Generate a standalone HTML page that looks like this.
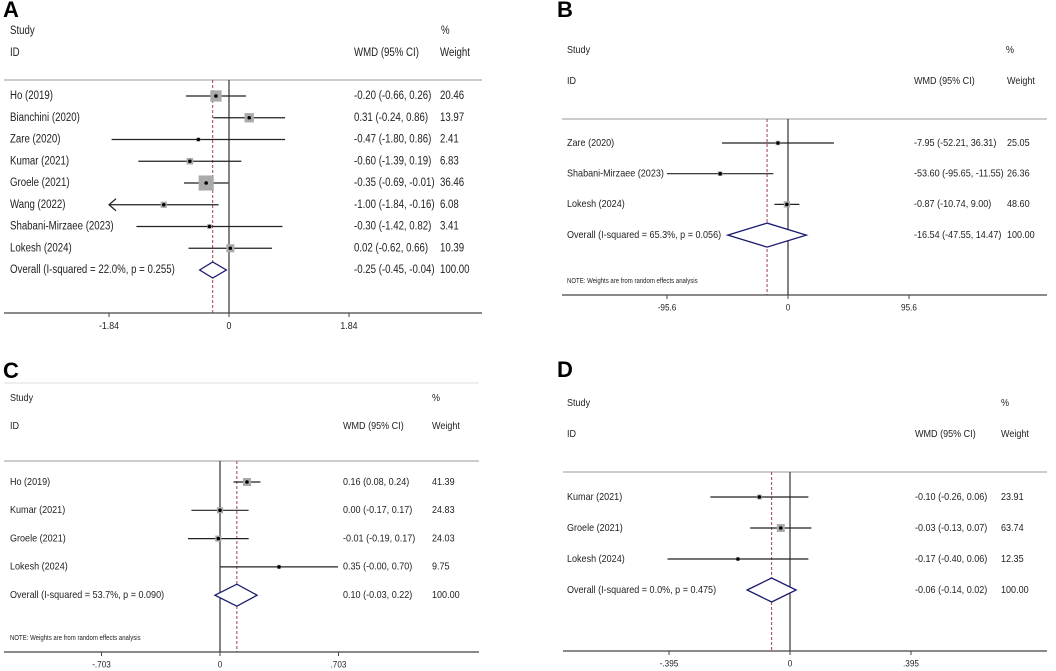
<!DOCTYPE html>
<html><head><meta charset="utf-8">
<style>
html,body{margin:0;padding:0;background:#fff;}
svg{display:block;font-family:"Liberation Sans",Arial,sans-serif;}
</style></head>
<body>
<svg id="fig" width="1056" height="671" viewBox="0 0 1056 671" xmlns="http://www.w3.org/2000/svg"></svg>
<script>
// Panel A data
const studiesA = ["Ho (2019)","Bianchini (2020)","Zare (2020)","Kumar (2021)","Groele (2021)","Wang (2022)","Shabani-Mirzaee (2023)","Lokesh (2024)"];
const estA = [-0.20,0.31,-0.47,-0.60,-0.35,-1.00,-0.30,0.02];
const lowA = [-0.66,-0.24,-1.80,-1.39,-0.69,-1.84,-1.42,-0.62];
const highA = [0.26,0.86,0.86,0.19,-0.01,-0.16,0.82,0.66];
const weightA = [20.46,13.97,2.41,6.83,36.46,6.08,3.41,10.39];
const ciTextA = ["-0.20 (-0.66, 0.26)","0.31 (-0.24, 0.86)","-0.47 (-1.80, 0.86)","-0.60 (-1.39, 0.19)","-0.35 (-0.69, -0.01)","-1.00 (-1.84, -0.16)","-0.30 (-1.42, 0.82)","0.02 (-0.62, 0.66)"];
const overallA = [-0.25,-0.45,-0.04];
const overallLabelA = "Overall  (I-squared = 22.0%, p = 0.255)";
const overallTextA = "-0.25 (-0.45, -0.04)";
const ticksA = [-1.84,0,1.84];
const tickLabelsA = ["-1.84","0","1.84"];
// Panel B data
const studiesB = ["Zare (2020)","Shabani-Mirzaee (2023)","Lokesh (2024)"];
const estB = [-7.95,-53.60,-0.87];
const lowB = [-52.21,-95.65,-10.74];
const highB = [36.31,-11.55,9.00];
const weightB = [25.05,26.36,48.60];
const ciTextB = ["-7.95 (-52.21, 36.31)","-53.60 (-95.65, -11.55)","-0.87 (-10.74, 9.00)"];
const overallB = [-16.54,-47.55,14.47];
const overallLabelB = "Overall  (I-squared = 65.3%, p = 0.056)";
const overallTextB = "-16.54 (-47.55, 14.47)";
const ticksB = [-95.6,0,95.6];
const tickLabelsB = ["-95.6","0","95.6"];
// Panel C data
const studiesC = ["Ho (2019)","Kumar (2021)","Groele (2021)","Lokesh (2024)"];
const estC = [0.16,0.00,-0.01,0.35];
const lowC = [0.08,-0.17,-0.19,0.00];
const highC = [0.24,0.17,0.17,0.70];
const weightC = [41.39,24.83,24.03,9.75];
const ciTextC = ["0.16 (0.08, 0.24)","0.00 (-0.17, 0.17)","-0.01 (-0.19, 0.17)","0.35 (-0.00, 0.70)"];
const overallC = [0.10,-0.03,0.22];
const overallLabelC = "Overall  (I-squared = 53.7%, p = 0.090)";
const overallTextC = "0.10 (-0.03, 0.22)";
const ticksC = [-0.703,0,0.703];
const tickLabelsC = ["-.703","0",".703"];
// Panel D data
const studiesD = ["Kumar (2021)","Groele (2021)","Lokesh (2024)"];
const estD = [-0.10,-0.03,-0.17];
const lowD = [-0.26,-0.13,-0.40];
const highD = [0.06,0.07,0.06];
const weightD = [23.91,63.74,12.35];
const ciTextD = ["-0.10 (-0.26, 0.06)","-0.03 (-0.13, 0.07)","-0.17 (-0.40, 0.06)"];
const overallD = [-0.06,-0.14,0.02];
const overallLabelD = "Overall  (I-squared = 0.0%, p = 0.475)";
const overallTextD = "-0.06 (-0.14, 0.02)";
const ticksD = [-0.395,0,0.395];
const tickLabelsD = ["-.395","0",".395"];

const svg = document.getElementById('fig');
const NS = "http://www.w3.org/2000/svg";
function mk(tag, attrs, parent){
  const e = document.createElementNS(NS, tag);
  for (const k in attrs) e.setAttribute(k, attrs[k]);
  (parent||svg).appendChild(e);
  return e;
}
let SQUEEZE = 0.85;
function txt(x,y,s,size,parent,anchor,weight,noSqueeze){
  const t = mk('text',{x:x,y:y,'font-size':size,fill:'#222','text-anchor':anchor||'start','dominant-baseline':'middle','font-weight':weight||'normal'},parent);
  t.textContent = s;
  if (!noSqueeze){
    const w = t.getComputedTextLength();
    if (w > 0){
      t.setAttribute('textLength', (w*SQUEEZE).toFixed(2));
      t.setAttribute('lengthAdjust','spacingAndGlyphs');
    }
  }
  return t;
}

function panel(cfg){
  SQUEEZE = cfg.squeeze;
  const g = mk('g',{});
  
  
  const sx = v => cfg.zeroX + v*cfg.scale;
  const L = txt(cfg.letterX, cfg.letterY, cfg.letter, 22, g, 'start', 'bold', true);
  L.setAttribute('fill','#000');
  
  
  const hdr = [[cfg.textX,cfg.studyY,"Study"],[cfg.pctX,cfg.studyY,"%"],[cfg.textX,cfg.idY,"ID"],[cfg.wmdX,cfg.idY,"WMD (95% CI)"],[cfg.wtX,cfg.idY,"Weight"]];
  hdr.forEach(h=>{
    const t = txt(h[0],h[1],h[2],cfg.fs,g);
    
    
  });
  if (cfg.topFaint){
    const fl = mk('line',{x1:cfg.x0,x2:cfg.x1,y1:cfg.topFaint,y2:cfg.topFaint,stroke:'#ddd','stroke-width':1},g);
    
    
  }
  const tl = mk('line',{x1:cfg.x0,x2:cfg.x1,y1:cfg.topY,y2:cfg.topY,stroke:'#bbb','stroke-width':1.5},g);
  
  
  const zl = mk('line',{x1:sx(0),x2:sx(0),y1:cfg.topY,y2:cfg.axisY,stroke:'#333','stroke-width':1.2},g);
  
  
  const ol = mk('line',{x1:sx(cfg.overall[0]),x2:sx(cfg.overall[0]),y1:cfg.topY,y2:cfg.axisY,stroke:'#a04050','stroke-width':1,'stroke-dasharray':'3,2'},g);
  
  
  const minV = cfg.ticks[0];
  cfg.studies.forEach((s,i)=>{
    const y = cfg.rowY0 + i*cfg.rowH;
    const lab = txt(cfg.textX,y,s,cfg.fs,g);
    
    
    let lo = cfg.low[i], clipped = false;
    if (cfg.arrow && lo <= minV){ lo = minV; clipped = true; }
    const ci = mk('line',{x1:sx(lo),x2:sx(cfg.high[i]),y1:y,y2:y,stroke:'#222','stroke-width':1.2},g);
    
    
    if (clipped){
      const a = mk('polyline',{points:`${sx(lo)+7},${y-6} ${sx(lo)},${y} ${sx(lo)+7},${y+6}`,fill:'none',stroke:'#222','stroke-width':1.2},g);
      
      
    }
    const side = cfg.boxK*Math.sqrt(cfg.weight[i]);
    const b = mk('rect',{x:sx(cfg.est[i])-side/2,y:y-side/2,width:side,height:side,fill:'#aaa'},g);
    
    
    const d = mk('circle',{cx:sx(cfg.est[i]),cy:y,r:1.8,fill:'#000'},g);
    
    
    const ct = txt(cfg.wmdX,y,cfg.ciText[i],cfg.fs,g);
    
    
    const wt = txt(cfg.wtX,y,cfg.weight[i].toFixed(2),cfg.fs,g);
    
    
  });
  const oy = cfg.rowY0 + cfg.studies.length*cfg.rowH;
  const olab = txt(cfg.textX,oy,cfg.overallLabel,cfg.fs,g);
  
  
  const o = cfg.overall, h = cfg.diaH;
  const dm = mk('polygon',{points:`${sx(o[1])},${oy} ${sx(o[0])},${oy-h} ${sx(o[2])},${oy} ${sx(o[0])},${oy+h}`,fill:'#fff',stroke:'#1a1a6e','stroke-width':1.3},g);
  
  
  const ot = txt(cfg.wmdX,oy,cfg.overallText,cfg.fs,g);
  
  
  const ow = txt(cfg.wtX,oy,"100.00",cfg.fs,g);
  
  
  if (cfg.noteY){
    const n = txt(cfg.textX,cfg.noteY,"NOTE: Weights are from random effects analysis",7,g);
    
    
  }
  const ax = mk('line',{x1:cfg.x0,x2:cfg.x1,y1:cfg.axisY,y2:cfg.axisY,stroke:'#444','stroke-width':1.3},g);
  
  
  cfg.ticks.forEach((v,i)=>{
    const tk = mk('line',{x1:sx(v),x2:sx(v),y1:cfg.axisY,y2:cfg.axisY+4,stroke:'#444','stroke-width':1},g);
    
    
    const tt = txt(sx(v),cfg.axisY+13,cfg.tickLabels[i],cfg.fs-1,g,'middle');
    
    
  });
}

panel({name:'panel-a',letter:'A',letterX:3,letterY:11,textX:10,pctX:441,wmdX:354,wtX:440,studyY:31,idY:53,squeeze:0.84,
  topY:80,x0:4,x1:482,axisY:313,zeroX:229,scale:120/1.84,rowY0:96,rowH:21.75,fs:11.5,boxK:2.5,diaH:8,arrow:true,
  studies:studiesA,est:estA,low:lowA,high:highA,weight:weightA,ciText:ciTextA,overall:overallA,
  overallLabel:overallLabelA,overallText:overallTextA,ticks:ticksA,tickLabels:tickLabelsA});
panel({name:'panel-b',letter:'B',letterX:557,letterY:11,textX:567,pctX:1006,wmdX:914,wtX:1007,studyY:50,idY:81,squeeze:0.86,
  topY:119,x0:562,x1:1047,axisY:295,zeroX:788,scale:121/95.6,rowY0:143,rowH:30.7,fs:10.5,boxK:0.9,diaH:12,noteY:281,
  studies:studiesB,est:estB,low:lowB,high:highB,weight:weightB,ciText:ciTextB,overall:overallB,
  overallLabel:overallLabelB,overallText:overallTextB,ticks:ticksB,tickLabels:tickLabelsB});
panel({name:'panel-c',letter:'C',letterX:3,letterY:372,textX:10,pctX:432,wmdX:343,wtX:432,studyY:398,idY:426,topFaint:383,squeeze:0.86,
  topY:461,x0:4,x1:479,axisY:652,zeroX:220,scale:118.5/0.703,rowY0:482,rowH:28.3,fs:10.5,boxK:1.25,diaH:11,noteY:638,
  studies:studiesC,est:estC,low:lowC,high:highC,weight:weightC,ciText:ciTextC,overall:overallC,
  overallLabel:overallLabelC,overallText:overallTextC,ticks:ticksC,tickLabels:tickLabelsC});
panel({name:'panel-d',letter:'D',letterX:557,letterY:371,textX:567,pctX:1001,wmdX:915,wtX:1001,studyY:403,idY:434,squeeze:0.86,
  topY:472,x0:563,x1:1047,axisY:651,zeroX:790,scale:121/0.395,rowY0:497,rowH:31,fs:10.5,boxK:1.0,diaH:12,
  studies:studiesD,est:estD,low:lowD,high:highD,weight:weightD,ciText:ciTextD,overall:overallD,
  overallLabel:overallLabelD,overallText:overallTextD,ticks:ticksD,tickLabels:tickLabelsD});
</script>
</body></html>
